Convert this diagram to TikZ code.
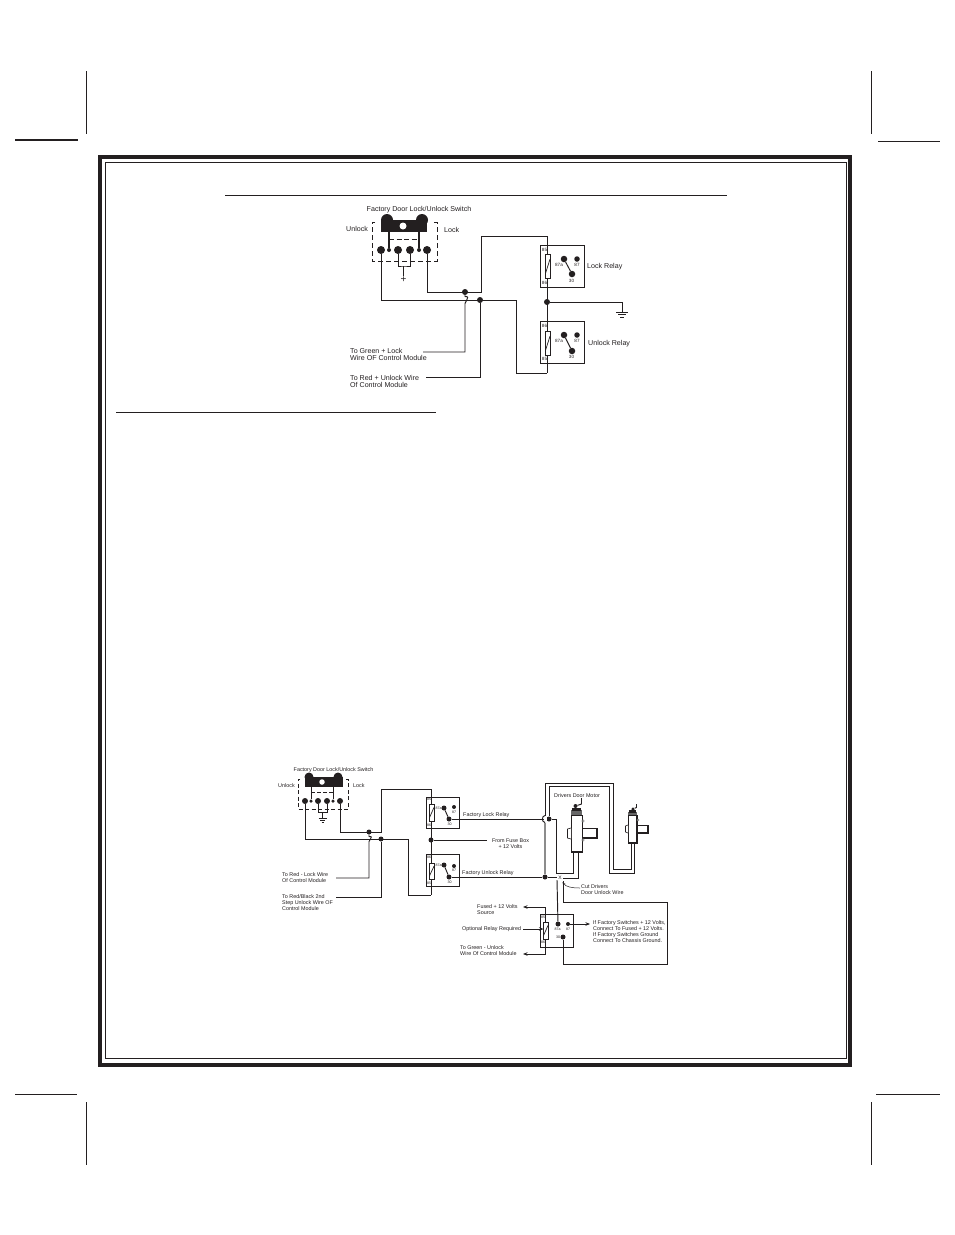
\documentclass[tikz,border=0pt]{standalone}
\usepackage{fontspec}
\setmainfont{Liberation Sans}
\usetikzlibrary{arrows.meta}
\definecolor{ink}{HTML}{231F20}
\newcommand{\fs}[2]{\fontsize{#1}{#2}\selectfont}
\tikzset{
  wire/.style={draw=ink,line width=0.95pt,line join=miter},
  graywire/.style={draw=black!45,line width=1.3pt},
  dot/.style={circle,fill=ink,draw=none,inner sep=0pt,minimum size=#1},
  lab/.style={inner sep=0pt,text=ink,align=left,anchor=west,font=\fs{7.1}{7.4}},
  labs/.style={inner sep=0pt,text=ink,align=left,anchor=west,font=\fs{5.4}{6}},
  tiny1/.style={inner sep=0pt,text=ink,font=\fs{4.6}{5}},
  tiny2/.style={inner sep=0pt,text=ink,font=\fs{3.6}{4}},
  crop/.style={draw=ink,line width=1pt},
  sw/.style={draw=ink,line width=0.9pt,dash pattern=on 5pt off 3pt},
  tip/.style={-{Stealth[length=4.5pt,width=3.5pt]}},
}
% relay: prefix, left, top, width, height, coil left, coil top, coil width, coil height
\newcommand{\relayparts}[9]{%
  \draw[wire] (#2,#3) rectangle ++(#4,#5);
  \path[draw=ink,fill=white,line width=0.9pt] (#6,#7) rectangle ++(#8,#9);
  \draw[draw=ink,line width=0.7pt] (#6,#7) ++(#8,0.2*#9) -- ++(-#8,0.6*#9);
}
\begin{document}
\begin{tikzpicture}[x=1pt,y=-1pt]
\useasboundingbox (0,0) rectangle (954,1235);
\fill[white] (0,0) rectangle (954,1235);
% crop marks
\draw[crop] (86,71) -- (86,134);
\draw[crop,line width=2pt] (15,140) -- (78,140);
\draw[crop] (871,71) -- (871,134);
\draw[crop] (878,141) -- (940,141);
\draw[crop] (15,1094) -- (77,1094);
\draw[crop] (86,1102) -- (86,1165);
\draw[crop] (871,1102) -- (871,1165);
\draw[crop] (876,1094) -- (940,1094);
% frame
\draw[draw=ink,line width=4pt] (100,157) rectangle (850,1065);
\draw[draw=ink,line width=0.9pt] (105.5,162.5) rectangle (846,1058.5);
% rules
\draw[draw=ink,line width=1.8pt] (225,195.5) -- (727,195.5);
\draw[draw=ink,line width=0.9pt] (116,412.5) -- (436,412.5);

%%%% TOP DIAGRAM
\node[lab,anchor=center] (t1title) at (419,209.5) {Factory Door Lock/Unlock Switch};
\node[lab] (t1unlock) at (346,229) {Unlock};
\node[lab] (t1lock) at (444,230) {Lock};
\draw[sw] (375,222) -- (372,222) -- (372,261) -- (437,261) -- (437,222) -- (434,222);
\fill[ink] (381,220) rectangle (427,232);
\node[dot=12pt] (t1b1) at (387,220) {};
\node[dot=12pt] (t1b2) at (422,220) {};
\node[dot=7pt,fill=white] (t1hole) at (403,226) {};
\node[dot=8pt] (ta) at (381,250) {};
\node[dot=8pt] (tb) at (398,250) {};
\node[dot=8pt] (tc) at (410,250) {};
\node[dot=8pt] (td) at (427,250) {};
\node[dot=4pt] (te) at (389,250) {};
\node[dot=4pt] (tf) at (419,250) {};
\draw[draw=ink,line width=1.8pt] (389,232) -- (te);
\draw[draw=ink,line width=1.8pt] (419,232) -- (tf);
\draw[draw=ink,line width=0.9pt,dash pattern=on 5pt off 2.5pt] (389,239) -- (419,239);
\coordinate (tplus) at (403.5,266);
\draw[wire] (tb) |- (tplus) -| (tc);
\draw[wire] (tplus) -- ++(0,10);
\node[inner sep=0pt,text=ink,font=\fs{10}{10}] (tpl) at (403.5,279.5) {+};

\coordinate (tcoilT) at (547,236);
\coordinate (tcoilB) at (547,373);
\node[dot=6pt] (tj1) at (465,292) {};
\node[dot=6pt] (tj2) at (480,300) {};
\node[dot=6pt] (tj3) at (547,302) {};
\coordinate (tup) at (481,292);
\coordinate (tg1) at (516,300);
\coordinate (tgnd) at (622,312);
\coordinate (tlk) at (423,352);
\coordinate (tul) at (426,377);
\draw[wire] (td) |- (tup) |- (tcoilT) -- (tcoilB);
\draw[wire] (ta) |- (tg1) |- (tcoilB);
\draw[wire] (tj1) -- ++(0,4.5) .. controls ++(3.5,0) and ++(3.5,-7) .. ++(0,7) |- (tlk);
\draw[wire] (tj2) |- (tul);
\draw[wire] (tj3) -| (tgnd);
\draw[draw=ink,line width=0.9pt] (tgnd) ++(-6,0) -- ++(12,0) ++(-10,2.7) -- ++(8,0) ++(-6,2.7) -- ++(4,0);

% lock relay
\relayparts{tl}{540.5}{245.5}{43.5}{41.5}{545.5}{254.5}{4.5}{23.5}
\node[dot=6.5pt] (tla) at (564,259) {};
\node[dot=5.5pt] (tlb) at (577,259) {};
\node[dot=6.5pt] (tlc) at (572,274) {};
\draw[wire] (tla) -- (tlc);
\node[tiny1] (tl85) at (544.5,249.5) {85};
\node[tiny1] (tl86) at (544.5,283) {86};
\node[tiny1] (tl87a) at (559,265) {87a};
\node[tiny1] (tl87) at (577,265) {87};
\node[tiny1] (tl30) at (571.5,281) {30};
\node[lab] (tlname) at (587,267) {Lock Relay};
% unlock relay
\relayparts{tu}{540.5}{321.5}{43.5}{41.5}{545.5}{331.5}{4.5}{23.5}
\node[dot=6.5pt] (tua) at (564,335) {};
\node[dot=5.5pt] (tub) at (577,335) {};
\node[dot=6.5pt] (tuc) at (572,351) {};
\draw[wire] (tua) -- (tuc);
\node[tiny1] (tu86) at (544.5,325.5) {86};
\node[tiny1] (tu85) at (544.5,358.5) {85};
\node[tiny1] (tu87a) at (559,341) {87a};
\node[tiny1] (tu87) at (577,341) {87};
\node[tiny1] (tu30) at (571.5,357) {30};
\node[lab] (tuname) at (588,344) {Unlock Relay};
\node[lab] (tgreen) at (350,354.5) {To Green + Lock\\Wire OF Control Module};
\node[lab] (tred) at (350,381.5) {To Red + Unlock Wire\\Of Control Module};

%%%% BOTTOM DIAGRAM
\node[labs,anchor=center] (b1title) at (333.5,770.5) {Factory Door Lock/Unlock Switch};
\node[labs] (b1unlock) at (278,786) {Unlock};
\node[labs] (b1lock) at (353,786) {Lock};
\draw[sw,dash pattern=on 4pt off 2.5pt] (300,779) -- (298,779) -- (298,809) -- (348,809) -- (348,779) -- (346,779);
\fill[ink] (305,777) rectangle (343,787);
\node[dot=9pt] (b1b1) at (309,777) {};
\node[dot=9pt] (b1b2) at (338,777) {};
\node[dot=5.5pt,fill=white] (b1hole) at (322,782) {};
\node[dot=6pt] (ba) at (305,801) {};
\node[dot=6pt] (bb) at (318,801) {};
\node[dot=6pt] (bc) at (327,801) {};
\node[dot=6pt] (bd) at (340,801) {};
\node[dot=3.5pt] (be) at (311,801) {};
\node[dot=3.5pt] (bf) at (333,801) {};
\draw[draw=ink,line width=0.9pt] (311,787) -- (be);
\draw[draw=ink,line width=0.9pt] (333,787) -- (bf);
\draw[draw=ink,line width=0.9pt,dash pattern=on 4pt off 2pt] (311,792) -- (333,792);
\coordinate (bgc) at (322.5,812);
\draw[wire] (bb) |- (bgc) -| (bc);
\draw[wire] (bgc) -- ++(0,6);
\draw[draw=ink,line width=0.8pt] (bgc) ++(-4,6) -- ++(8,0) ++(-6.5,2) -- ++(5,0) ++(-3.5,2) -- ++(2,0);

\coordinate (bT) at (431,789);
\coordinate (bB) at (431,895);
\node[dot=5pt] (bj1) at (369,832) {};
\node[dot=5pt] (bj2) at (381,839) {};
\node[dot=5pt] (bj3) at (431,840) {};
\coordinate (bup) at (381,832);
\coordinate (bw2) at (408,839);
\coordinate (bfuse) at (487,840);
\coordinate (blk) at (336,878);
\coordinate (bul) at (336,897);
\draw[wire] (bd) |- (bup) |- (bT) -- (bB);
\draw[wire] (ba) |- (bw2) |- (bB);
\draw[wire] (bj1) -- ++(0,4.5) .. controls ++(3,0) and ++(3,-5) .. ++(0,5) |- (blk);
\draw[wire] (bj2) |- (bul);
\draw[wire] (bj3) -- (bfuse);

% factory lock relay
\relayparts{bl}{426.5}{797}{33}{31}{429.5}{804}{4.5}{17}
\node[dot=5pt] (bla) at (444,808) {};
\node[dot=4pt] (blb) at (454,807) {};
\node[dot=5pt] (blc) at (449,819) {};
\draw[wire] (bla) -- (blc);
\node[tiny2] (bl85) at (429,799.5) {85};
\node[tiny2] (bl86) at (429,825) {86};
\node[tiny2] (bl87a) at (438.5,808) {87a};
\node[tiny2] (bl87) at (454,812) {87};
\node[tiny2] (bl30) at (449.5,824) {30};
\node[labs] (blname) at (463,815) {Factory Lock Relay};
% factory unlock relay
\relayparts{bu}{426.5}{854.5}{33}{32}{429.5}{863}{4.5}{16}
\node[dot=5pt] (bua) at (444,865) {};
\node[dot=4pt] (bub) at (454,866) {};
\node[dot=5pt] (buc) at (449,877) {};
\draw[wire] (bua) -- (buc);
\node[tiny2] (bu86) at (429,857.5) {86};
\node[tiny2] (bu85) at (429,883) {85};
\node[tiny2] (bu87a) at (438.5,865) {87a};
\node[tiny2] (bu87) at (454,870) {87};
\node[tiny2] (bu30) at (449.5,882) {30};
\node[labs] (buname) at (462,873.5) {Factory Unlock Relay};
\node[labs,align=center,anchor=center] (bfrom) at (510.5,844) {From Fuse Box\\+ 12 Volts};
\node[labs] (bl1) at (282,877.5) {To Red - Lock Wire\\Of Control Module};
\node[labs] (bl2) at (282,903) {To Red/Black 2nd\\Step Unlock Wire OF\\Control Module};

% motor wiring
\node[dot=5pt] (bj4) at (549,819) {};
\node[dot=5pt] (bj5) at (545,877) {};
\coordinate (mA) at (573,852);
\coordinate (mB) at (578,852);
\coordinate (nA) at (631,843);
\coordinate (nB) at (634,843);
\coordinate (cutX) at (557,877);
\coordinate (hopT) at (545,815.5);
\coordinate (hopB) at (545,822.5);
\draw[wire] (blc) -- (bj4);
\fill[white] (543.5,816.5) rectangle (546.5,821.5);
\draw[wire] (hopT) .. controls (541.5,816) and (541.5,822) .. (hopB);
\draw[wire] (hopT) -- (545,783) -- (613,783) -- (613,869) -- (631,869) -- (nA);
\draw[graywire] (hopB) -- (bj5);
\draw[wire] (bj4) -- (549,786.5) -- (609,786.5) -- (609,873) -- (634,873) -- (nB);
\draw[wire] (bj4) -- (556,819) -- (556,873) -- (573,873) -- (mA);
\draw[wire] (buc) -- (bj5) -- (cutX);
\draw[wire] (mB) -- (578,878) -- (563,878);
\node[inner sep=0pt,text=ink,font=\fs{5}{5}] (cutmark) at (560,878) {X};
\node[dot=5pt] (oa) at (558,924) {};
\node[dot=4pt] (ob) at (568,924) {};
\node[dot=5pt] (oc) at (563,937) {};
\draw[wire] (557,880) -- (oa);
\draw[wire] (563,881) -- (563,902) -- (667,902) -- (667,964) -- (563,964) -- (oc);

% motor 1
\path[draw=ink,fill=white,line width=1pt] (571.5,815) rectangle (582,852);
\draw[draw=ink,line width=1.8pt] (571.5,815) -- (571.5,852) -- (582,852);
\path[draw=ink,fill=white,line width=1pt] (582,828) rectangle (597,838);
\draw[draw=ink,line width=1.6pt] (582,838) -- (597,838) -- (597,828);
\path[draw=ink,fill=white,line width=0.6pt] (571,828) -- (567.5,829) -- (567.5,838) -- (571,839);
\fill[black!60] (571,810) rectangle (582,815);
\fill[ink] (572,807.5) rectangle (581,811);
\node[dot=4pt] (m1d) at (575.5,806) {};
\draw[wire] (m1d) -- (581.5,804) -- (581.5,798);
\draw[draw=black!50,line width=0.5pt] (583,821) circle (1.3pt) (583,840) circle (1.3pt);
\node[labs] (m1name) at (554,795.5) {Drivers Door Motor};
% motor 2
\path[draw=ink,fill=white,line width=1pt] (628.5,815) rectangle (637,843);
\draw[draw=ink,line width=1.6pt] (628.5,843) -- (637,843) -- (637,815);
\path[draw=ink,fill=white,line width=1pt] (637,825) rectangle (648,833);
\draw[draw=ink,line width=1.5pt] (637,833) -- (648,833) -- (648,825);
\path[draw=ink,fill=white,line width=0.6pt] (628,825) -- (625.5,826) -- (625.5,832) -- (628,833);
\fill[black!60] (628,812) rectangle (637,815);
\fill[ink] (629,810) rectangle (636,812.5);
\node[dot=3.5pt] (m2d) at (633,809) {};
\draw[wire] (m2d) -- (636.5,807.5) -- (636.5,804);
\draw[draw=black!50,line width=0.5pt] (638,820) circle (1pt);
% cut label
\coordinate (cutend) at (580,888);
\draw[draw=ink,line width=0.5pt,-{Stealth[length=3pt,width=2.5pt]}] (cutend) .. controls (572,888) and (566,887) .. (562.5,882);
\node[labs] (cutlab) at (581,890) {Cut Drivers\\Door Unlock Wire};

% optional relay
\relayparts{op}{540.5}{914.5}{33}{32.5}{543.5}{922}{4.5}{17}
\node[tiny2] (op85) at (543,917) {85};
\node[tiny2] (op86) at (543,942) {86};
\node[tiny2] (op87a) at (557.5,929.5) {87a};
\node[tiny2] (op87) at (568,929.5) {87};
\node[tiny2] (op30) at (558,937.5) {30};
\coordinate (opT) at (545.5,922);
\coordinate (opB) at (545.5,939);
\coordinate (opTs) at (523,907);
\coordinate (opBs) at (523,954);
\coordinate (opMid) at (523,929);
\coordinate (opCoil) at (543.5,929);
\coordinate (opOut) at (590,924);
\draw[wire,tip] (opT) |- (opTs);
\draw[wire,tip] (opB) |- (opBs);
\draw[wire,tip] (opMid) -- (opCoil);
\draw[wire,tip] (ob) -- (opOut);
\node[labs] (fusedt) at (477,910) {Fused + 12 Volts\\Source};
\node[labs] (optt) at (462,929) {Optional Relay Required};
\node[labs] (greent) at (460,951) {To Green - Unlock\\Wire Of Control Module};
\node[labs] (rt) at (593,931.5) {If Factory Switches + 12 Volts,\\Connect To Fused + 12 Volts.\\If Factory Switches Ground\\Connect To Chassis Ground.};
\end{tikzpicture}
\end{document}
